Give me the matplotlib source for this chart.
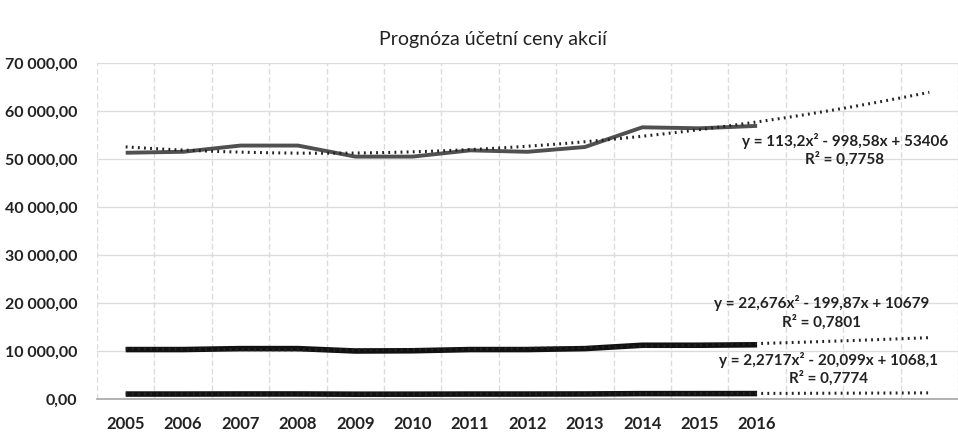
import matplotlib
matplotlib.use("Agg")
import matplotlib.pyplot as plt
import numpy as np
from matplotlib.ticker import FuncFormatter, MultipleLocator

roky = [2005, 2006, 2007, 2008, 2009, 2010, 2011, 2012, 2013, 2014, 2015, 2016]
rada_1 = [51300, 51500, 52800, 52800, 50500, 50500, 51800, 51500, 52500, 56600, 56400, 56900]
rada_2 = [10300, 10300, 10500, 10500, 10000, 10050, 10300, 10300, 10500, 11200, 11200, 11300]
rada_3 = [1030, 1030, 1050, 1050, 1000, 1005, 1030, 1030, 1050, 1120, 1120, 1130]

# koeficienty polynomickych trendu (a, b, c) podle popisku v grafu
trend_1 = (113.2, -998.58, 53406)
trend_2 = (22.676, -199.87, 10679)
trend_3 = (2.2717, -20.099, 1068.1)
popisky = [
    ("y = 113,2x² - 998,58x + 53406", "R² = 0,7758"),
    ("y = 22,676x² - 199,87x + 10679", "R² = 0,7801"),
    ("y = 2,2717x² - 20,099x + 1068,1", "R² = 0,7774"),
]
predpoved = 3  # pocet obdobi dopredu

plt.rcParams['font.family'] = ['Lato', 'DejaVu Sans']

fig = plt.figure(figsize=(9.58, 4.33), dpi=100)
ax = fig.add_axes([97 / 958, 1 - 399 / 433, 1 - 97 / 958, (399 - 63) / 433])

x = np.arange(len(roky))
xt = np.linspace(0, len(roky) - 1 + predpoved, 200)

serie = [(rada_1, trend_1, '#505050', 2.8), (rada_2, trend_2, '#111111', 4.0), (rada_3, trend_3, '#111111', 4.0)]
for data, (a, b, c), barva, lw in serie:
    ax.plot(x, data, color=barva, lw=lw, solid_capstyle='butt', zorder=3)
    n = xt + 1
    ax.plot(xt, a * n ** 2 + b * n + c, color='#222222', lw=2.2, ls=(0, (0.6, 1.4)), zorder=4)

# pozice popisku trendu (index kategorie, hodnota)
pozice = [(12.53, 55500), (12.13, 21600), (12.25, 9800)]
for (rov, r2), (px, py) in zip(popisky, pozice):
    ax.text(px, py, rov + "\n" + r2, ha='center', va='top', fontsize=11,
            fontweight='bold', color='#222222', linespacing=1.25, zorder=5)

ax.set_xlim(-0.5, (958 - 97) / 58.5 - 0.5)
ax.set_ylim(0, 70000)
ax.yaxis.set_major_locator(MultipleLocator(10000))
ax.yaxis.set_major_formatter(FuncFormatter(lambda v, p: f"{v:,.2f}".replace(",", " ").replace(".", ",")))
ax.set_xticks(x)
ax.set_xticklabels([str(r) for r in roky])
ax.set_xticks(np.arange(-0.5, 15, 1), minor=True)

ax.grid(axis='y', which='major', color='#dcdcdc', lw=1)
ax.grid(axis='x', which='minor', color='#dcdcdc', lw=1, ls=(0, (4, 2)))
ax.set_axisbelow(True)
for s in ['top', 'right', 'left']:
    ax.spines[s].set_visible(False)
ax.spines['bottom'].set_color('#a6a6a6')
ax.spines['bottom'].set_linewidth(1.2)
ax.tick_params(axis='both', which='both', length=0, colors='#222222')
ax.tick_params(axis='y', pad=14, labelsize=11.5)
ax.tick_params(axis='x', pad=12, labelsize=12)
for lab in ax.get_xticklabels() + ax.get_yticklabels():
    lab.set_fontweight('bold')

fig.text(493 / 958, 1 - 40 / 433, "Prognóza účetní ceny akcií", ha='center', va='center',
         fontsize=14, color='#222222')

fig.savefig("out.png", dpi=100)
